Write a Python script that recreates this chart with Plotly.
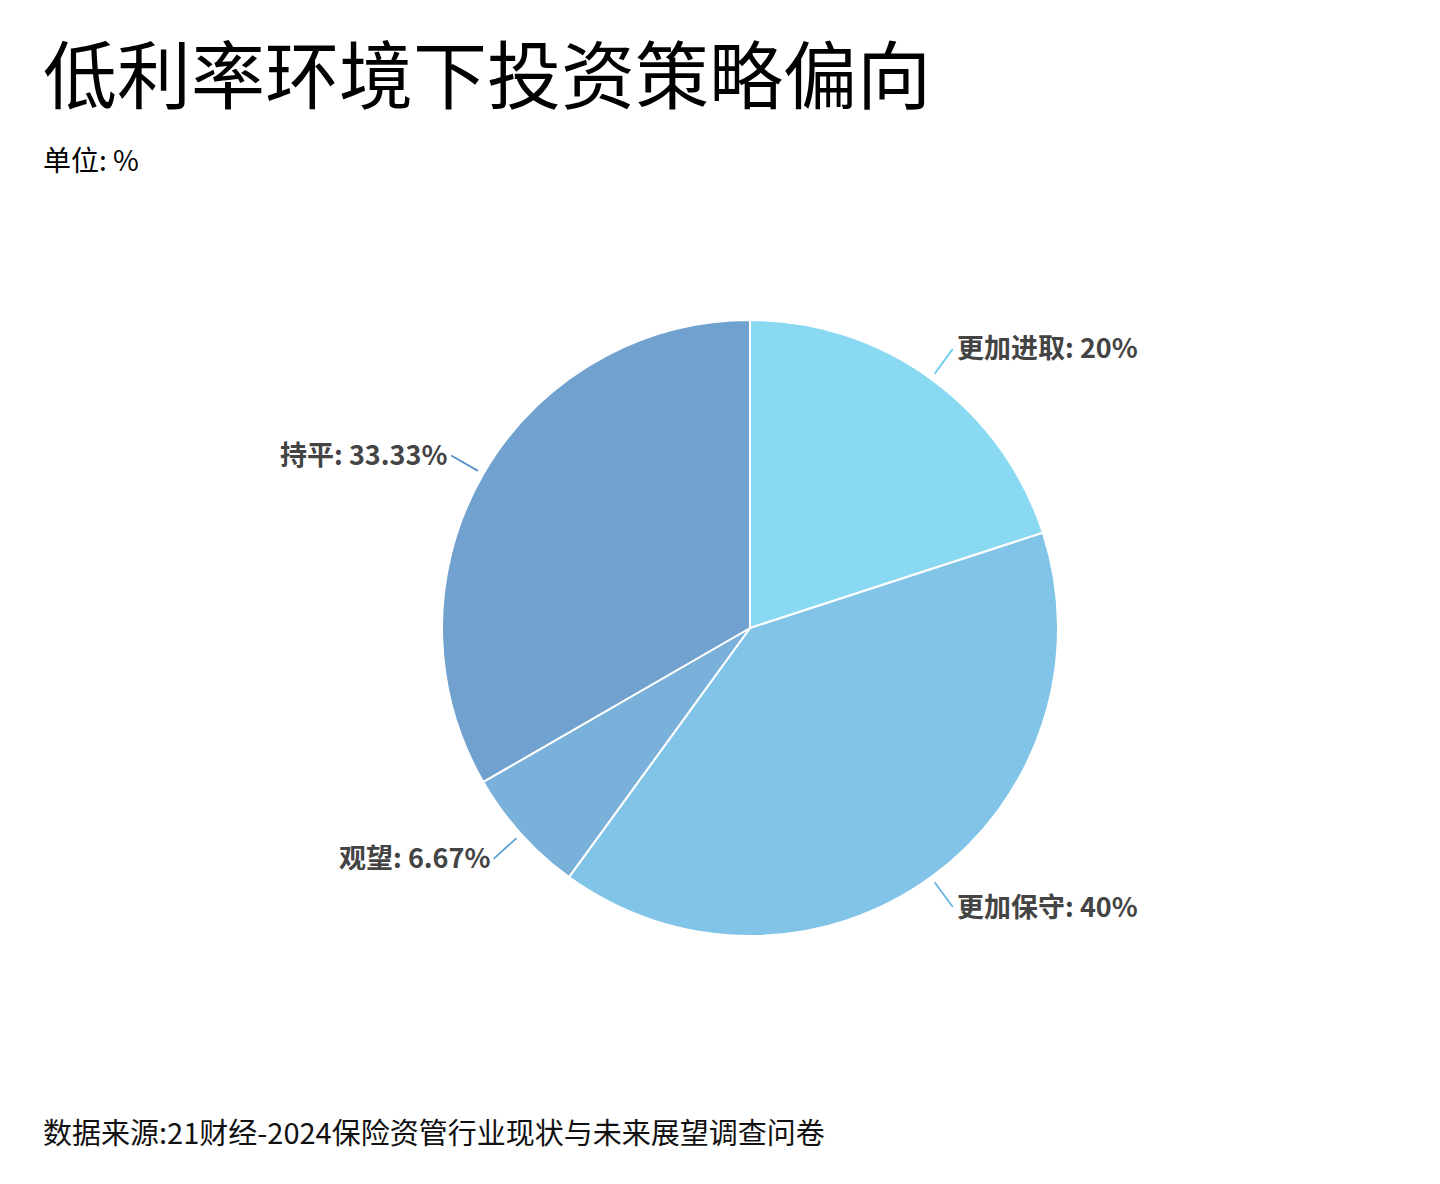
import math
import plotly.graph_objects as go

# chart data
labels = ["更加进取", "更加保守", "观望", "持平"]
values = [20, 40, 6.67, 33.33]
value_text = ["20%", "40%", "6.67%", "33.33%"]
colors = ["#8AD9F3", "#82C4E8", "#7AB1DA", "#70A1CF"]
line_colors = ["#66CBEE", "#66B4E0", "#5DA3D6", "#5A90C8"]

title_text = "低利率环境下投资策略偏向"
unit_text = "单位: %"
source_text = "数据来源:21财经-2024保险资管行业现状与未来展望调查问卷"

W, H = 1440, 1184
OFF = 8                      # page body margin in the browser
CX, CY, R = 750 - OFF, 628 - OFF, 308   # pie centre / radius in px

FONT = "Noto Sans CJK SC"

fig = go.Figure()

fig.add_trace(
	go.Pie(
		labels = labels,
		values = values,
		sort = False,
		direction = "clockwise",
		rotation = 0,
		textinfo = "none",
		hoverinfo = "label+percent",
		marker = dict(colors = colors, line = dict(color = "white", width = 2)),
		domain = dict(
			x = [(CX - R) / W, (CX + R) / W],
			y = [1 - (CY + R) / H, 1 - (CY - R) / H]
		),
		showlegend = False
	)
)

# leader lines + outside labels, placed from each slice's mid angle
shapes = []
annotations = []
total = sum(values)
start = 0.0
for lbl, val, txt, col in zip(labels, values, value_text, line_colors):
	mid = (start + val / 2) / total * 2 * math.pi
	start += val
	sx, sy = math.sin(mid), -math.cos(mid)
	x0, y0 = CX + sx * R * 1.02, CY + sy * R * 1.02
	x1, y1 = CX + sx * R * 1.12, CY + sy * R * 1.12
	shapes.append(dict(
		type = "line", xref = "paper", yref = "paper",
		x0 = x0 / W, y0 = 1 - y0 / H, x1 = x1 / W, y1 = 1 - y1 / H,
		line = dict(color = col, width = 1.8)
	))
	right = sx > 0
	annotations.append(dict(
		xref = "paper", yref = "paper",
		x = (x1 + (2 if right else -2)) / W, y = 1 - (y1 - 2) / H,
		xanchor = "left" if right else "right", yanchor = "middle",
		text = "<b>" + lbl + ": " + txt + "</b>",
		showarrow = False,
		font = dict(family = FONT, size = 27, color = "#444444")
	))

annotations.append(dict(
	xref = "paper", yref = "paper", x = 33 / W, y = 1 - 62 / H,
	xanchor = "left", yanchor = "middle", text = title_text, showarrow = False,
	font = dict(family = FONT, size = 74, color = "#000000")
))
annotations.append(dict(
	xref = "paper", yref = "paper", x = 33 / W, y = 1 - 151 / H,
	xanchor = "left", yanchor = "middle", text = unit_text, showarrow = False,
	font = dict(family = FONT, size = 28, color = "#000000")
))
annotations.append(dict(
	xref = "paper", yref = "paper", x = 33 / W, y = 1 - 1123 / H,
	xanchor = "left", yanchor = "middle", text = source_text, showarrow = False,
	font = dict(family = FONT, size = 29, color = "#111111")
))

fig.update_layout(
	width = W,
	height = H,
	margin = dict(l = 0, r = 0, t = 0, b = 0),
	paper_bgcolor = "white",
	plot_bgcolor = "white",
	shapes = shapes,
	annotations = annotations
)

fig.write_html("out.html")
